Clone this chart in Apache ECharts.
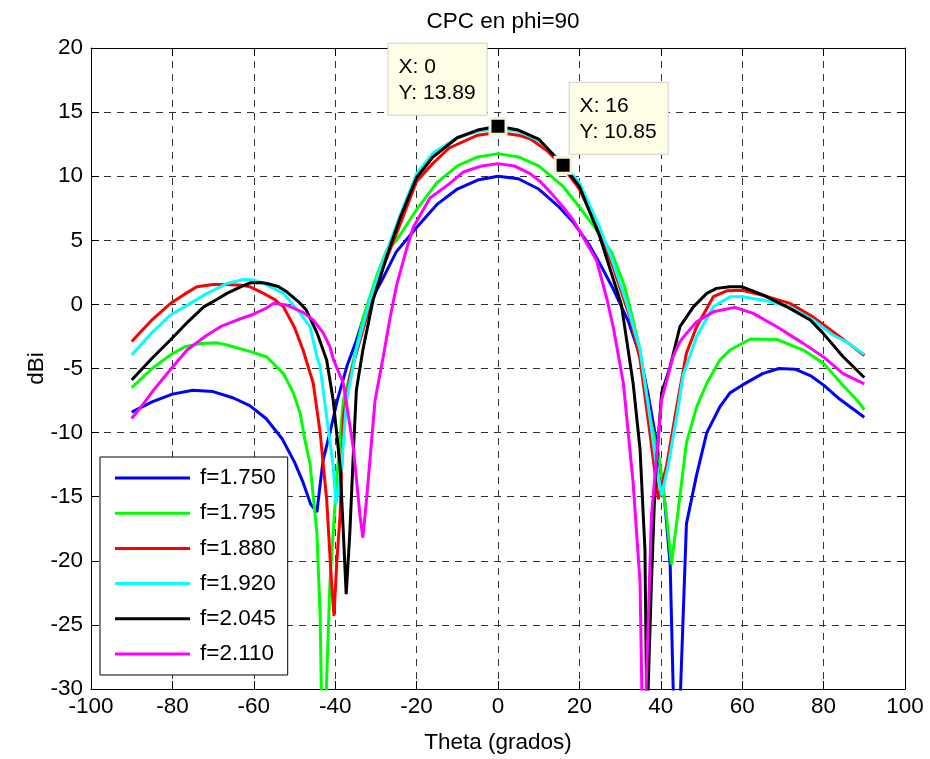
<!DOCTYPE html>
<html>
<head>
<meta charset="utf-8">
<script src="https://cdn.jsdelivr.net/npm/echarts@6/dist/echarts.min.js"></script>
<style>
html,body{margin:0;padding:0;background:#fff;}
#chart{width:930px;height:759px;}
</style>
</head>
<body>
<div id="chart"></div>
<script>
var seriesNames = ['f=1.750','f=1.795','f=1.880','f=1.920','f=2.045','f=2.110'];
var seriesColors = ['#0000ff','#00ff00','#ff0000','#00ffff','#000000','#ff00ff'];

var theta1750 = [-90,-85,-80,-75,-70,-65,-61,-57,-53,-50,-48,-46,-44.5,-43,-41,-39.5,-37,-35,-33,-30,-28,-25,-20,-15,-10,-5,0,5,10,15,18.5,22.5,25,28,32,35,37,39,41,42.3,43.2,44,44.8,46.3,48.8,51.3,54.5,57,60,65,69,73,77,80,84,87,90];
var db1750 = [-8.4,-7.6,-7.0,-6.7,-6.8,-7.3,-7.9,-8.9,-10.5,-12.3,-13.8,-15.6,-16.2,-12.2,-9.6,-7.5,-4.7,-3.0,-1.0,1.0,2.2,4.1,6.0,7.8,9.0,9.7,10.0,9.8,9.0,7.6,6.4,4.6,3.2,1.4,-1.3,-4.1,-7.2,-10.8,-15.5,-20.3,-32,-45,-30.5,-17.1,-13.3,-10.0,-8.0,-6.9,-6.3,-5.4,-5.0,-5.05,-5.6,-6.3,-7.4,-8.1,-8.8];

var theta1795 = [-90,-85,-80.5,-77,-73,-69,-66.6,-60.6,-56.8,-52.7,-50.3,-48.6,-47.5,-46.2,-44.5,-43.7,-43.2,-42.6,-41.3,-39.7,-38,-36.4,-33.1,-29.9,-27.4,-24.9,-20,-15,-10,-5,0,5,10,16,20,24,28,31,33,34.9,37.3,39.8,41.4,42.6,44.6,46.3,48.8,51.3,54.5,57,62,68.5,75,80,85,88,90];
var db1795 = [-6.5,-5.0,-3.95,-3.3,-3.05,-3.0,-3.17,-3.7,-4.1,-5.4,-6.9,-8.5,-10.5,-12.4,-17.8,-24.3,-34,-34,-21.7,-13.9,-7.45,-5.6,-1.0,2.15,4.2,5.0,7.4,9.5,10.8,11.5,11.76,11.5,10.8,9.2,7.6,5.9,4.0,1.5,-1.0,-3.56,-8.75,-12.4,-16.5,-20.3,-15.2,-10.8,-8.0,-6.15,-4.34,-3.56,-2.7,-2.73,-3.56,-4.6,-6.4,-7.4,-8.2];

var theta1880 = [-90,-85,-80.5,-77,-74,-70,-66.6,-63,-60.9,-57.6,-55,-52.7,-50,-47.9,-45.4,-43.7,-42.1,-40.9,-40.3,-39.6,-38.8,-38,-36.4,-32.3,-28.2,-24,-20,-16,-12,-5,0,5,8,12,16,20,25,28.3,30.8,32.4,34.9,37.3,39.4,41.4,43.9,46.3,48.8,52.9,56.2,60,65,71.7,77.4,82.3,86,90];
var db1880 = [-2.9,-1.2,0.07,0.8,1.37,1.55,1.55,1.5,1.37,0.86,0.4,-0.19,-1.8,-3.56,-6.15,-10.0,-15.2,-21.7,-24.3,-20.0,-16.5,-8.75,-5.6,-1.0,2.9,6.3,9.6,11.0,12.2,13.2,13.4,13.2,12.9,12.0,10.7,9.0,5.6,2.9,0.5,-0.97,-4.3,-10.0,-15.2,-12.6,-8.0,-3.8,-1.74,0.6,1.06,1.1,0.72,0.08,-0.97,-2.13,-3.0,-4.0];

var theta1920 = [-90,-85,-80.5,-76,-72.3,-66.6,-62.5,-60,-57.6,-52.7,-48.6,-46.2,-44.5,-43.7,-42.1,-40.5,-39.8,-38.4,-37.2,-34.8,-31.5,-28.2,-24,-20,-16,-10,-5,0,5,10,16,20,25,28,31.6,34.9,37.3,38.9,40.2,41.8,43.9,45.5,48.8,52.9,57,60,65.2,71.7,77.4,82.3,86,90];
var db1920 = [-3.95,-2.2,-0.83,0.0,0.72,1.63,1.95,1.9,1.63,0.86,-0.7,-1.74,-4.08,-4.86,-8.75,-12.6,-15.6,-12.6,-7.45,-3.56,0.33,3.45,7.0,10.2,11.8,13.0,13.5,13.7,13.5,12.8,11.0,9.5,6.0,3.5,0.1,-3.56,-8.75,-12.6,-14.9,-12.6,-8.75,-5.5,-2.5,-0.19,0.6,0.6,0.33,-0.19,-1.22,-2.39,-3.0,-3.9];

var theta2045 = [-90,-85,-80.5,-76,-72.3,-69,-66.6,-63,-60.9,-58,-56.8,-54,-51.9,-49,-47.1,-44.5,-42.1,-40.5,-38.8,-38,-37.3,-36.4,-35.5,-34.8,-33.2,-30.7,-27.4,-24,-20,-16,-10,-5,0,5,10,16,20,25,28.3,30.3,33.2,34.9,36.1,36.6,37.0,37.7,38.6,40.2,42.3,44.7,48,51.3,53.7,57,60,65.2,71.7,76.7,79.9,84.8,90];
var db2045 = [-5.9,-4.2,-2.78,-1.3,-0.19,0.4,0.86,1.4,1.68,1.7,1.63,1.4,0.98,0.2,-0.44,-2.2,-4.34,-7.45,-12.6,-17.8,-22.6,-17.8,-11.3,-6.7,-3.56,0.33,3.7,6.8,9.9,11.5,13.0,13.6,13.89,13.6,12.9,10.85,9.2,5.3,2.0,0.0,-6.15,-11.3,-19.1,-33,-33,-21.7,-13.9,-6.9,-4.86,-1.74,-0.19,0.86,1.25,1.37,1.37,0.72,-0.31,-1.22,-2.26,-4.08,-5.7];

var theta2110 = [-90,-87,-84.6,-80,-76.4,-72,-68.2,-64,-60.6,-57,-55.2,-51.9,-48,-45.4,-43,-41.3,-40.4,-38,-35.5,-33.9,-33.2,-32.3,-30.2,-28.2,-26.5,-24.9,-22.5,-20.8,-16.7,-12,-8.5,-4,0,4,7.9,10.3,13,16,18.5,21,24.2,26.7,28.3,30.8,33.2,34.9,35.5,36.1,37.7,40.2,43,44.7,46.3,48.8,52.9,58.2,62.7,68.5,75,79.9,84.8,90];
var db2110 = [-8.9,-7.7,-6.67,-4.9,-3.56,-2.5,-1.74,-1.2,-0.83,-0.3,0.08,-0.05,-0.6,-1.22,-2.2,-3.3,-4.34,-6.15,-11.3,-16.5,-18.2,-15.2,-7.45,-4.08,-1.0,1.5,4.3,6.04,8.3,9.4,10.33,10.8,10.98,10.8,10.2,9.6,8.7,7.6,6.57,5.2,3.45,0.5,-1.74,-6.15,-13.9,-21.7,-33,-33,-16.5,-7.45,-4.08,-2.9,-2.26,-1.35,-0.58,-0.23,-0.7,-1.74,-3.04,-4.08,-5.4,-6.2];

var tipTheta = [0,16];
var tipDb = [13.89,10.85];

var xTicks = [-100,100,20];
var yTicks = [-30,20,5];

var thetas = [theta1750,theta1795,theta1880,theta1920,theta2045,theta2110];
var dbs = [db1750,db1795,db1880,db1920,db2045,db2110];

var FONT = 'Liberation Sans, Arial, Helvetica, sans-serif';
var FS = 22.5;

function zip(a,b){var r=[];for(var i=0;i<a.length;i++){r.push([a[i],b[i]]);}return r;}

var series = seriesNames.map(function(n,i){
  return {
    name:n, type:'line', data:zip(thetas[i],dbs[i]),
    showSymbol:false, symbol:'none', smooth:false,
    lineStyle:{width:3,color:seriesColors[i]}, itemStyle:{color:seriesColors[i]},
    clip:true, z:2+i
  };
});

var tipLabel = {
  show:true, color:'#000', fontSize:21, lineHeight:26, fontFamily:FONT,
  backgroundColor:'#ffffe8', borderColor:'#cfcfcf', borderWidth:1,
  padding:[10,11,9,10], align:'left', verticalAlign:'top'
};
series[4].markPoint = {
  symbol:'rect', symbolSize:16, silent:true, z:20,
  itemStyle:{color:'#000', borderColor:'#f7f3d7', borderWidth:3},
  data:[
    {coord:[tipTheta[0],tipDb[0]], label:Object.assign({}, tipLabel, {position:[-100,-73], formatter:'X: '+tipTheta[0]+'\nY: '+tipDb[0].toFixed(2)})},
    {coord:[tipTheta[1],tipDb[1]], label:Object.assign({}, tipLabel, {position:[16,-73], formatter:'X: '+tipTheta[1]+'\nY: '+tipDb[1].toFixed(2)})}
  ]
};

function axisCommon(){
  return {
    axisLine:{show:true, onZero:false, lineStyle:{color:'#000',width:1}},
    axisTick:{show:true, inside:true, length:8, lineStyle:{color:'#000'}}
  };
}

var chart = echarts.init(document.getElementById('chart'), null, {renderer:'canvas'});
chart.setOption({
  animation:false,
  backgroundColor:'#fff',
  title:{text:'CPC en phi=90', left:498, top:5, textAlign:'center',
    textStyle:{fontSize:FS, fontWeight:'normal', color:'#000', fontFamily:FONT}},
  grid:{left:91, right:25, top:48, bottom:69, containLabel:false},
  legend:{
    data:seriesNames, orient:'vertical', left:100, top:457,
    icon:'rect', itemWidth:75, itemHeight:3, itemGap:11.2,
    padding:[9,12,9,15], borderColor:'#000', borderWidth:1, backgroundColor:'#fff',
    textStyle:{fontSize:FS, color:'#000', fontFamily:FONT, lineHeight:24, padding:[0,0,0,5]},
    selectedMode:false, z:30
  },
  xAxis:[
    Object.assign(axisCommon(), {
      type:'value', position:'bottom', min:xTicks[0], max:xTicks[1], interval:xTicks[2],
      axisLabel:{fontSize:FS, color:'#000', margin:6, fontFamily:FONT},
      splitLine:{show:true, lineStyle:{type:[7,6], color:'#333', width:1}},
      name:'Theta (grados)', nameLocation:'middle', nameGap:42,
      nameTextStyle:{fontSize:FS, color:'#000', fontFamily:FONT}
    }),
    Object.assign(axisCommon(), {
      type:'value', position:'top', min:xTicks[0], max:xTicks[1], interval:xTicks[2],
      axisLabel:{show:false}, splitLine:{show:false}
    })
  ],
  yAxis:[
    Object.assign(axisCommon(), {
      type:'value', position:'left', min:yTicks[0], max:yTicks[1], interval:yTicks[2],
      axisLabel:{fontSize:FS, color:'#000', margin:8, fontFamily:FONT},
      splitLine:{show:true, lineStyle:{type:[7,6], color:'#333', width:1}},
      name:'dBi', nameLocation:'middle', nameGap:43, nameRotate:90, nameMoveOverlap:false,
      nameTextStyle:{fontSize:FS, color:'#000', fontFamily:FONT}
    }),
    Object.assign(axisCommon(), {
      type:'value', position:'right', min:yTicks[0], max:yTicks[1], interval:yTicks[2],
      axisLabel:{show:false}, splitLine:{show:false}
    })
  ],
  series:series
});
</script>
</body>
</html>
